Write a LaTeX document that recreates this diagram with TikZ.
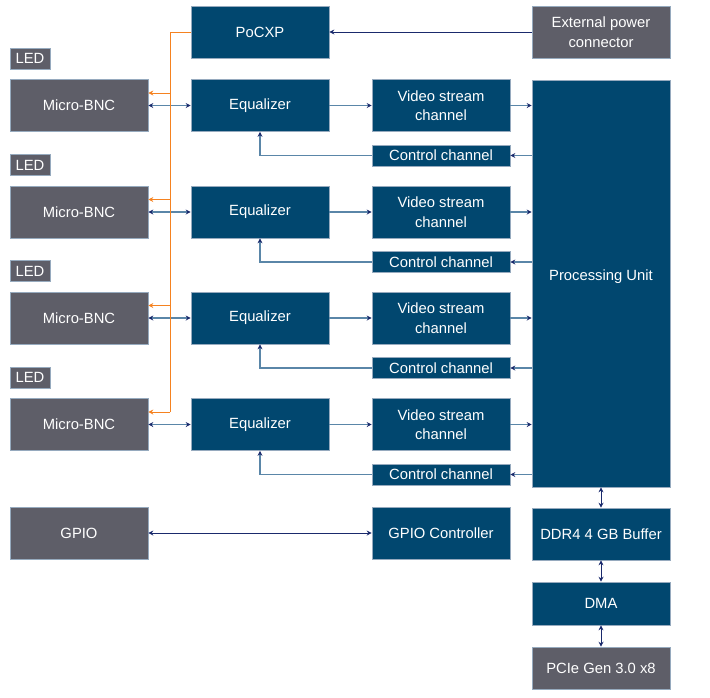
\documentclass[tikz,border=0pt]{standalone}
\usepackage{fontspec}
\setmainfont{Liberation Sans}
\usetikzlibrary{arrows.meta,positioning}
\definecolor{navybox}{RGB}{1,71,111}
\definecolor{graybox}{RGB}{94,94,104}
\definecolor{boxedge}{RGB}{150,170,190}
\definecolor{linec}{RGB}{90,134,168}
\definecolor{darkc}{RGB}{26,42,108}
\definecolor{orangec}{RGB}{245,130,32}
\begin{document}
\begin{tikzpicture}[x=1pt,y=-1pt,
    font=\fontsize{14.8}{19.5}\selectfont,
    >={Stealth[length=5pt,width=5pt,color=darkc]},
    box/.style={draw=boxedge,line width=0.6pt,fill=navybox,text=white,align=center,
        minimum width=138pt,minimum height=52pt,inner sep=0pt},
    hwbox/.style={box,fill=graybox},
    ledbox/.style={hwbox,minimum width=40pt,minimum height=21pt},
    ctlbox/.style={box,minimum height=21pt},
    link/.style={draw=linec,line width=1.2pt},
    dlink/.style={draw=darkc,line width=1pt},
    plink/.style={draw=orangec,line width=1pt}]
    \useasboundingbox (0,0) rectangle (710,697);
    \node[box] (pocxp) at (260,32) {PoCXP};
    \node[hwbox] (ext) at (601,32) {External power\\connector};
    \node[box,minimum height=407pt] (pu) at (601,283.5) {};
    \node[text=white] (putext) at (601,277) {Processing Unit};
    \foreach \i/\y in {1/105.5,2/212,3/318,4/424.5} {
        \node[ledbox] (led\i) at (30,\y-47) {LED};
        \node[hwbox] (bnc\i) at (79,\y) {Micro-BNC};
        \node[box] (eq\i) at (260,\y) {Equalizer};
        \node[box] (vid\i) at (441,\y) {Video stream\\channel};
        \node[ctlbox] (ctl\i) at (441,\y+50) {Control channel};
        \coordinate (o\i) at (170,\y-12.5);
        \draw[link,<->] (bnc\i) -- (eq\i);
        \draw[link,->] (eq\i) -- (vid\i);
        \draw[link,->] (vid\i.east) -- (vid\i.east -| pu.west);
        \draw[link,->] (ctl\i.east -| pu.west) -- (ctl\i.east);
        \draw[link,->] (ctl\i.west) -| (eq\i.south);
        \draw[plink,-{Stealth[length=5pt,width=5pt]}] (o\i) -- (o\i -| bnc\i.east);
    }
    \draw[plink] (pocxp.west) -| (o4);
    \draw[dlink,->] (ext) -- (pocxp);
    \node[hwbox] (gpio) at (79,533) {GPIO};
    \node[box] (gpioc) at (441,533) {GPIO Controller};
    \node[box] (ddr) at (601,534) {DDR4 4 GB Buffer};
    \node[box,minimum height=43pt] (dma) at (601,603.5) {DMA};
    \node[hwbox,minimum height=42pt] (pcie) at (601,668) {PCIe Gen 3.0 x8};
    \draw[dlink,<->] (gpio) -- (gpioc);
    \draw[dlink,<->] (pu) -- (ddr);
    \draw[dlink,<->] (ddr) -- (dma);
    \draw[dlink,<->] (dma) -- (pcie);
\end{tikzpicture}
\end{document}
